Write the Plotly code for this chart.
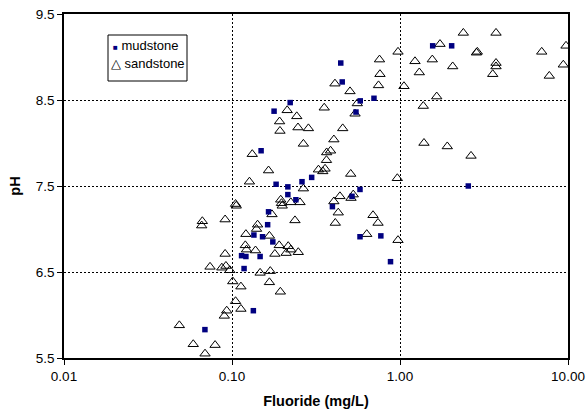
import plotly.graph_objects as go

# Fluoride concentration (mg/L) and pH of groundwater samples, by aquifer lithology
mud_fluoride = [0.069, 0.118, 0.134, 0.114, 0.121, 0.147, 0.135, 0.152, 0.175, 0.163,
                0.165, 0.183, 0.215, 0.215, 0.240, 0.261, 0.298, 0.396, 0.518, 0.578,
                0.578, 0.769, 0.878, 2.55, 0.149, 0.178, 0.222, 0.444, 0.453, 0.547,
                0.580, 0.700, 1.565, 2.03]
mud_ph = [5.83, 6.54, 6.05, 6.69, 6.68, 6.68, 6.93, 6.91, 6.85, 7.05,
          7.20, 7.52, 7.49, 7.40, 7.34, 7.55, 7.60, 7.26, 7.38, 7.46,
          6.91, 6.92, 6.62, 7.50, 7.91, 8.37, 8.47, 8.93, 8.71, 8.36,
          8.49, 8.52, 9.13, 9.13]

sand_fluoride = [0.0486, 0.0588, 0.0793, 0.0691, 0.090, 0.093, 0.113, 0.105, 0.101, 0.113,
                 0.074, 0.087, 0.092, 0.097, 0.147, 0.169, 0.167, 0.194, 0.091, 0.091,
                 0.0666, 0.066, 0.105, 0.106, 0.121, 0.120, 0.122, 0.138, 0.142, 0.140,
                 0.167, 0.180, 0.191, 0.216, 0.224, 0.210, 0.248, 0.173, 0.237, 0.195,
                 0.197, 0.199, 0.224, 0.254, 0.127, 0.165, 0.266, 0.327, 0.347, 0.358,
                 0.365, 0.366, 0.386, 0.404, 0.456, 0.266, 0.132, 0.192, 0.193, 0.213,
                 0.243, 0.247, 0.285, 0.354, 0.410, 0.504, 0.557, 0.540, 0.755, 0.760,
                 0.745, 0.439, 0.404, 0.511, 0.527, 0.429, 0.412, 0.509, 0.691, 0.740,
                 0.634, 0.973, 0.964, 0.973, 1.056, 1.228, 1.303, 1.557, 1.730, 1.654,
                 1.376, 2.059, 2.382, 2.885, 2.85, 3.728, 3.728, 3.728, 3.564, 6.975,
                 9.73, 9.376, 7.738, 1.389, 1.912, 2.647]
sand_ph = [5.88, 5.66, 5.65, 5.55, 5.99, 6.05, 6.07, 6.16, 6.39, 6.33,
           6.56, 6.55, 6.57, 6.52, 6.49, 6.51, 6.38, 6.27, 6.71, 7.11,
           7.09, 7.04, 7.29, 7.27, 6.94, 6.81, 6.76, 6.75, 7.05, 7.00,
           6.92, 6.71, 6.81, 6.80, 6.76, 6.72, 6.73, 7.17, 7.10, 7.34,
           7.30, 7.27, 7.31, 7.31, 7.55, 7.68, 7.47, 7.69, 7.67, 7.70,
           7.80, 7.89, 7.91, 8.04, 8.17, 7.99, 7.87, 8.25, 8.14, 8.38,
           8.31, 8.18, 8.17, 8.41, 8.69, 8.60, 8.46, 8.34, 8.97, 8.80,
           8.67, 7.38, 7.32, 7.36, 7.40, 7.19, 7.07, 7.64, 7.16, 7.07,
           6.94, 6.87, 7.59, 9.06, 8.66, 8.95, 8.82, 8.97, 9.15, 8.54,
           8.43, 8.89, 9.28, 9.06, 9.05, 9.28, 8.93, 8.89, 8.80, 9.06,
           9.13, 8.91, 8.78, 8.00, 7.96, 7.85]

x_ticks = [0.01, 0.1, 1, 10]
x_tick_labels = ["0.01", "0.10", "1.00", "10.00"]
y_ticks = [5.5, 6.5, 7.5, 8.5, 9.5]
y_tick_labels = ["5.5", "6.5", "7.5", "8.5", "9.5"]

W, H = 588, 412
L, R, T, B = 64, 20, 14, 54
FONT = "Liberation Sans, Arial, sans-serif"

fig = go.Figure()
fig.add_trace(go.Scatter(
    x=sand_fluoride, y=sand_ph, mode="markers", name="sandstone",
    marker=dict(symbol="triangle-up-open", size=9, color="black", line=dict(width=1, color="black")),
))
fig.add_trace(go.Scatter(
    x=mud_fluoride, y=mud_ph, mode="markers", name="mudstone",
    marker=dict(symbol="square", size=5.5, color="#000080", line=dict(width=0)),
))

axis_common = dict(
    showline=True, mirror=True, linecolor="black", linewidth=1.5,
    ticks="outside", ticklen=5, tickcolor="black", tickwidth=1,
    showgrid=True, gridcolor="black", gridwidth=1, griddash="2px,2px",
    zeroline=False, automargin=False,
    tickfont=dict(family=FONT, size=13.5, color="black"),
)

fig.update_xaxes(
    type="log", range=[-2, 1], tickvals=x_ticks, ticktext=x_tick_labels,
    title=dict(text="<b>Fluoride (mg/L)</b>", font=dict(family=FONT, size=14.5, color="black"), standoff=13),
    **axis_common,
)
fig.update_yaxes(
    range=[5.5, 9.5], tickvals=y_ticks, ticktext=y_tick_labels,
    title=dict(text="<b>pH</b>", font=dict(family=FONT, size=14.5, color="black"), standoff=12),
    **axis_common,
)

# Compact boxed key in the upper-left of the plot area
pw, ph = W - L - R, H - T - B
def px(xp):
    return (xp - L) / pw
def py(yp):
    return (H - B - yp) / ph

fig.add_shape(type="rect", xref="paper", yref="paper",
              x0=px(108), x1=px(187), y0=py(81), y1=py(35),
              line=dict(color="black", width=1), fillcolor="white", layer="above")
fig.add_annotation(xref="paper", yref="paper", x=px(111), y=py(45.5), xanchor="left", yanchor="middle",
                   text='<span style="color:#000080;font-size:8px">■</span> mudstone',
                   showarrow=False, font=dict(family=FONT, size=13, color="black"))
fig.add_annotation(xref="paper", yref="paper", x=px(109), y=py(63.5), xanchor="left", yanchor="middle",
                   text='△ sandstone',
                   showarrow=False, font=dict(family=FONT, size=13, color="black"))

fig.update_layout(
    width=W, height=H, margin=dict(l=L, r=R, t=T, b=B),
    paper_bgcolor="white", plot_bgcolor="white", showlegend=False,
    font=dict(family=FONT, color="black"),
)

fig.write_html("out.html")
